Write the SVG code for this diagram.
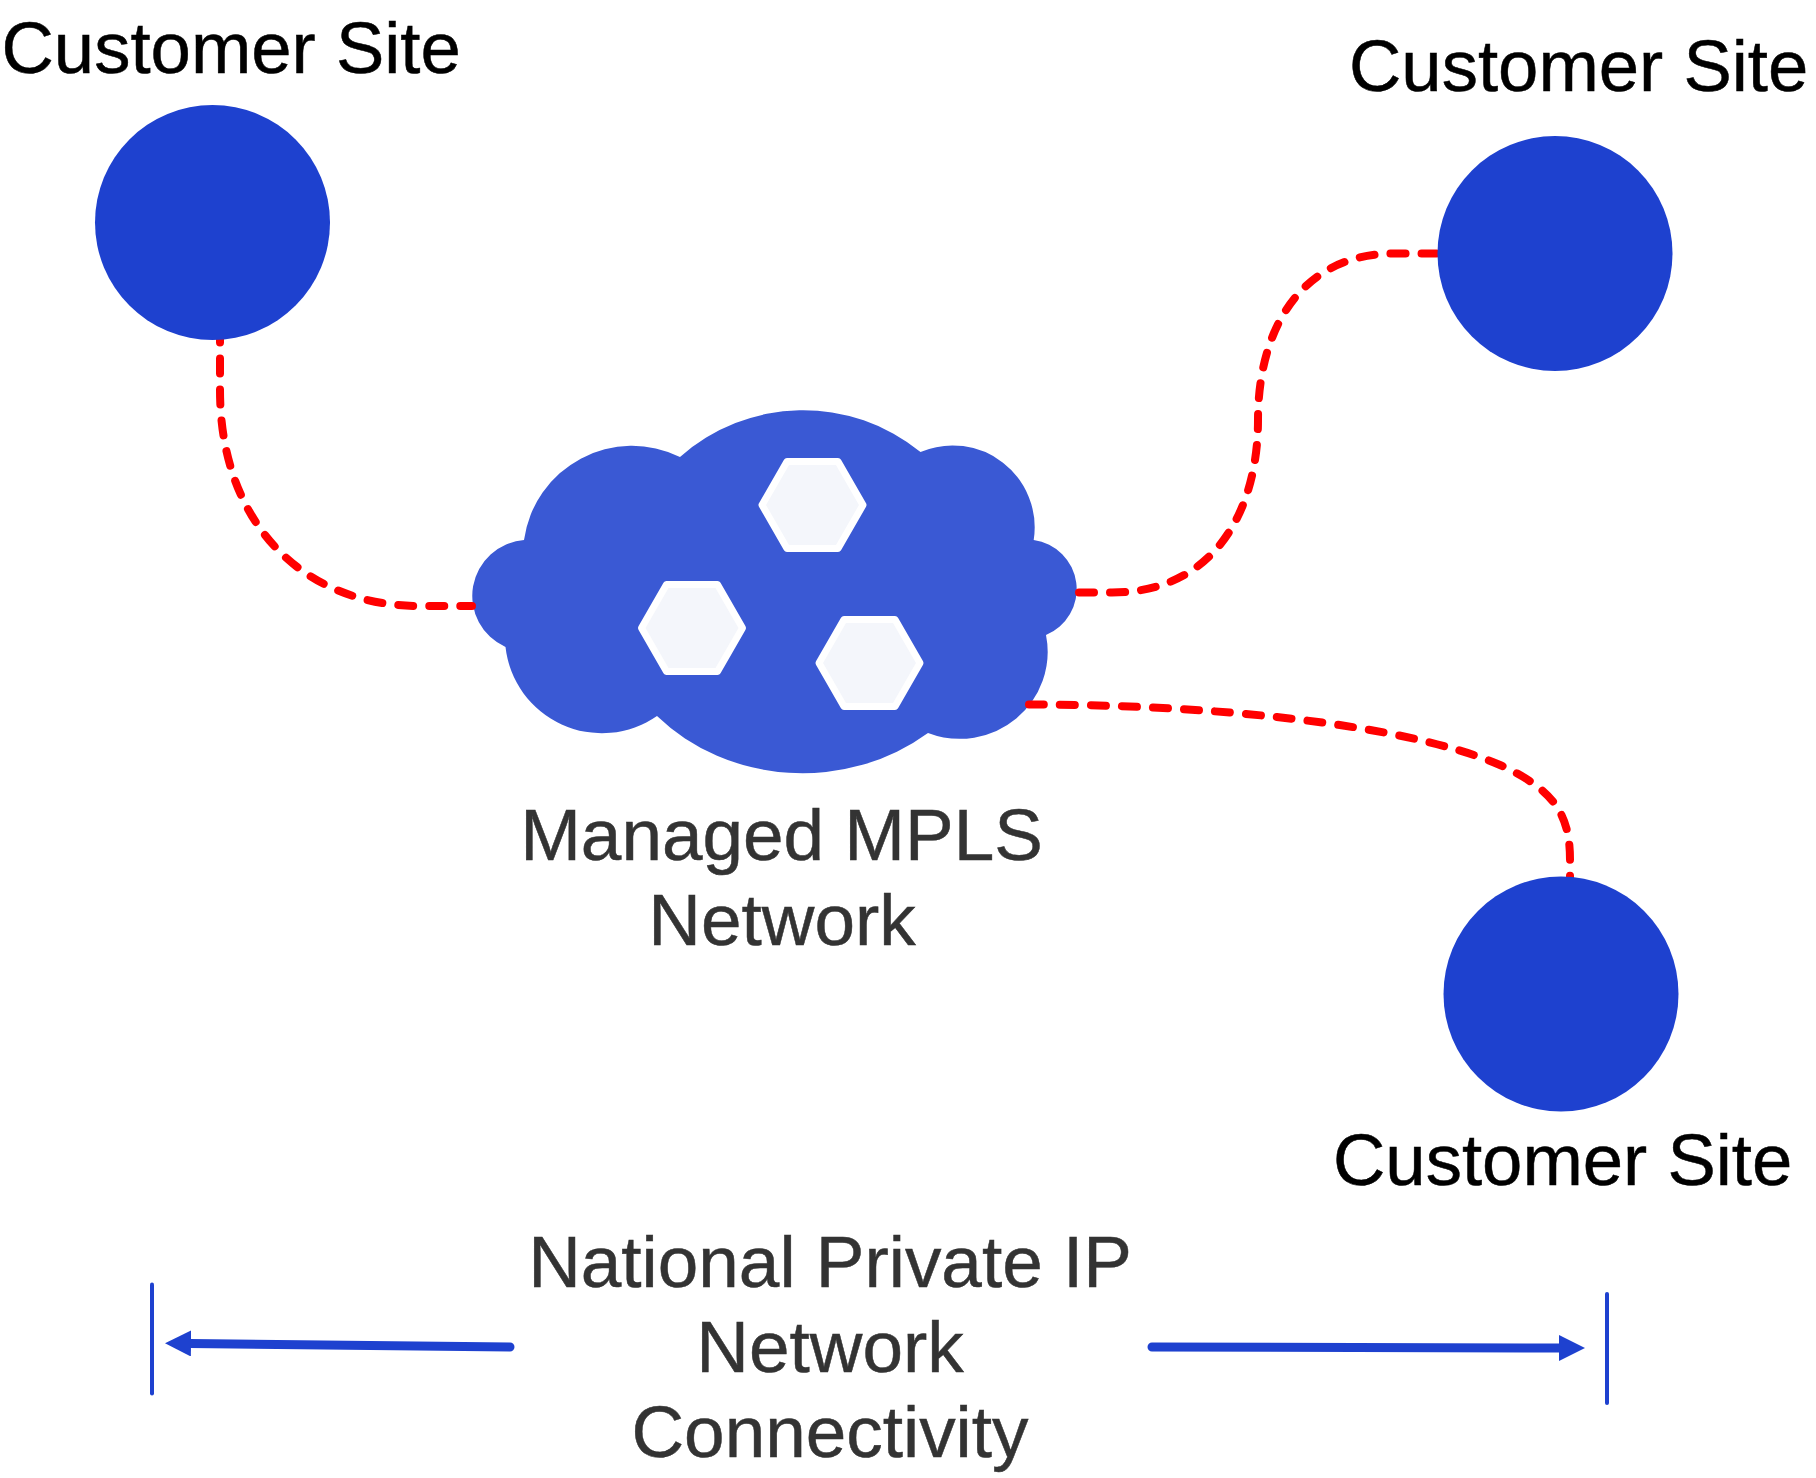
<svg xmlns="http://www.w3.org/2000/svg" width="1816" height="1478" viewBox="0 0 1816 1478">
<style>
text{font-family:"Liberation Sans",Arial,sans-serif;font-size:72.9px;stroke-width:.5}
.site{fill:#000;stroke:#000;font-size:72.5px}
.lbl{fill:#333;stroke:#333;text-anchor:middle}
.circle{fill:#1e41cf}
.cloud{fill:#3a59d4}
.hex{fill:#f4f6fb;stroke:#fff;stroke-width:7;stroke-linejoin:round}
.dash{fill:none;stroke:#f00;stroke-width:8;stroke-linecap:round;stroke-dasharray:15 16}
.arrow{fill:none;stroke:#1e41cf;stroke-width:9;stroke-linecap:round}
.tick{fill:none;stroke:#1e41cf;stroke-width:4;stroke-linecap:round}
</style>
<defs>
<marker id="head" markerUnits="userSpaceOnUse" markerWidth="26" markerHeight="26" viewBox="0 0 26 26" refX="1" refY="13" orient="auto"><path d="M0,0 L26,13 L0,26 Z" fill="#1e41cf"/></marker>
<polygon id="hx" points="-25.5,-43.5 25.5,-43.5 50.5,0 25.5,43.5 -25.5,43.5 -50.5,0"/>
</defs>
<rect width="1816" height="1478" fill="#fff"/>
<g id="cloud">
<path class="cloud" d="M680,457 A184,182 0 0 1 920.5,452 A82,82 0 0 1 1033.7,540 A49.6,49.6 0 0 1 1046,635 A88,87 0 0 1 928,733 A200,182 0 0 1 657,716 A97,97 0 0 1 505.5,647 A56,56 0 0 1 524,540 A109,109 0 0 1 680,457 Z"/>
<use class="hex" href="#hx" x="812.5" y="505"/>
<use class="hex" href="#hx" x="692" y="628"/>
<use class="hex" href="#hx" x="869.5" y="663"/>
<text class="lbl" x="781.5" y="860">Managed MPLS</text>
<text class="lbl" x="782" y="945">Network</text>
</g>
<g id="connectors">
<path class="dash" d="M220,327.5 L220,390 C220,520 300,606 420,606 L472,606"/>
<path class="dash" d="M1079,592.5 L1112,592.5 C1215,592.5 1258,510 1258,420 C1258,330 1300,253.5 1395,253.5 L1440,253.5"/>
<path class="dash" d="M1029,704.5 C1200,704.5 1400,722 1500,765 C1555,790 1570,815 1570,860 L1570,885"/>
<path class="arrow" marker-end="url(#head)" d="M510,1347 L190,1343.5"/>
<path class="arrow" marker-end="url(#head)" d="M1152,1347 L1560,1348"/>
<path class="tick" d="M152,1290 V1399" transform="translate(0,-5.5)"/>
<path class="tick" d="M1607,1294 V1403"/>
</g>
<g id="site-top-left"><circle class="circle" cx="212.5" cy="222.5" r="117.5"/><text class="site" x="1.5" y="73">Customer Site</text></g>
<g id="site-top-right"><circle class="circle" cx="1555" cy="253.5" r="117.5"/><text class="site" x="1349" y="91">Customer Site</text></g>
<g id="site-bottom-right"><circle class="circle" cx="1561" cy="994" r="117.5"/><text class="site" x="1333" y="1185">Customer Site</text></g>
<g id="network-label">
<text class="lbl" x="830" y="1287">National Private IP</text>
<text class="lbl" x="830" y="1372">Network</text>
<text class="lbl" x="830" y="1457">Connectivity</text>
</g>
</svg>
